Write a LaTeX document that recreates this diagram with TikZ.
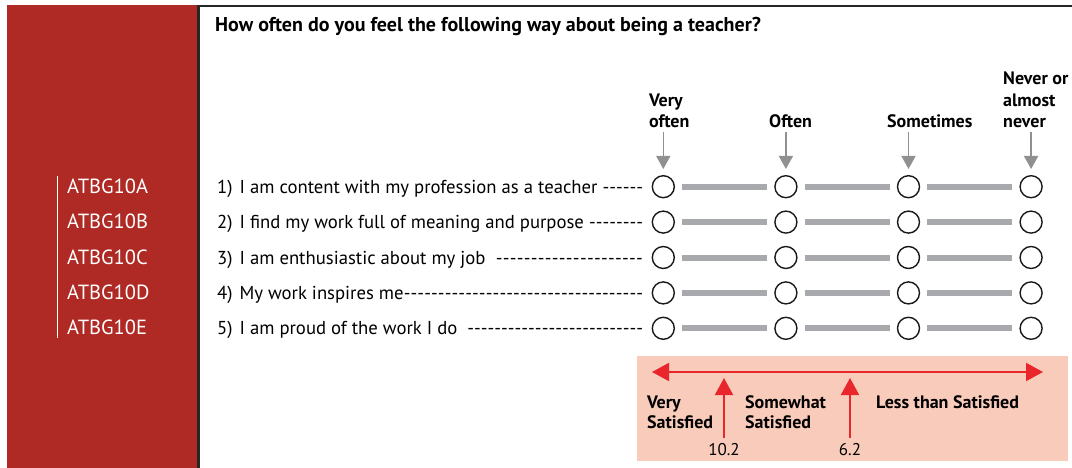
\documentclass[tikz,border=0pt]{standalone}
\usepackage{fontspec}
\setmainfont{PT Sans}
\usetikzlibrary{arrows.meta,positioning}
\definecolor{panelred}{HTML}{AF2A24}
\definecolor{scalepink}{HTML}{F9CBBA}
\definecolor{bargray}{HTML}{A7A9AC}
\definecolor{satred}{HTML}{E8262C}

\begin{document}
\begin{tikzpicture}[x=1pt, y=-1pt,
	every node/.style={inner sep=0pt},
	code/.style={anchor=base west, text=white, font=\fontsize{20.5}{22}\selectfont},
	item/.style={anchor=base west, font=\fontsize{18.7}{22}\selectfont},
	hdr/.style={anchor=base west, align=left, font=\bfseries\fontsize{18}{21.3}\selectfont},
	resp/.style={circle, draw=black!90, line width=1.4pt, minimum size=22pt},
	bar/.style={draw=bargray, line width=6pt, shorten <=7pt, shorten >=7pt},
	hdrarrow/.style={draw=bargray!85!black, line width=1.5pt, -{Triangle[width=14pt,length=13pt]}, shorten <=4pt, shorten >=6pt},
	satarrow/.style={draw=satred, line width=2pt},
	sattip/.tip={Triangle[width=18pt,length=17pt]},
	satlabel/.style={anchor=base west, align=left, font=\bfseries\fontsize{18}{20}\selectfont}]

	\useasboundingbox (0,0) rectangle (1072,468);
	\fill[panelred] (7,5) rectangle (197,468);
	\draw[line width=2.5pt, black!85] (198.5,468) -- (198.5,6) -- (1072,6);
	\fill[scalepink] (637,356) rectangle (1068,461);

	\node[anchor=base west, font=\bfseries\fontsize{20}{22}\selectfont] (title) at (215,32) {How often do you feel the following way about being a teacher?};

	\draw[white, line width=1pt] (57,176) -- (57,338);
	\foreach \c [count=\i, evaluate=\i as \y using 186.7+35.4*(\i-1)] in {A,B,C,D,E}
		\node[code] (code\i) at (67,\y+6.5) {ATBG10\c};

	\foreach \t [count=\i, evaluate=\i as \y using 186.7+35.4*(\i-1)] in {
		{I am content with my profession as a teacher\ },
		{I find my work full of meaning and purpose\ },
		{I am enthusiastic about my job\ \ },
		{My work inspires me},
		{I am proud of the work I do\ \ }} {
		\node[item] (item\i) at (217,\y+6.5) {\hbox to 426pt{\i)\hspace{7pt}\t\xleaders\hbox{-}\hfill}};
		\foreach \j [evaluate=\j as \x using 663.3+122.6*(\j-1)] in {1,...,4}
			\node[resp] (c\i-\j) at (\x,\y) {};
		\foreach \j [evaluate=\j as \k using int(\j+1)] in {1,2,3}
			\draw[bar] (c\i-\j.east) -- (c\i-\k.west);
	}

	\node[hdr] (h1) at (649,127.5) {Very\\often};
	\node[hdr] (h2) at (769,127.5) {Often};
	\node[hdr] (h3) at (887,127.5) {Sometimes};
	\node[hdr] (h4) at (1003,127.5) {Never or\\almost\\never};
	\foreach \j in {1,...,4}
		\draw[hdrarrow] (h\j.south -| c1-\j) -- (c1-\j.north);

	\coordinate (satL) at (652,372);
	\coordinate (satR) at (1043,372);
	\draw[satarrow, sattip-sattip] (satL) -- (satR);
	\node[anchor=base, font=\fontsize{17}{20}\selectfont] (cut1) at (724,455) {10.2};
	\node[anchor=base, font=\fontsize{17}{20}\selectfont] (cut2) at (850,455) {6.2};
	\draw[satarrow, -sattip, shorten <=5pt, shorten >=6pt] (cut1.north) -- (cut1.north |- satL);
	\draw[satarrow, -sattip, shorten <=5pt, shorten >=6pt] (cut2.north) -- (cut2.north |- satL);
	\node[satlabel] (vsat) at (647,428) {Very\\Satisfied};
	\node[satlabel] (ssat) at (745,428) {Somewhat\\Satisfied};
	\node[satlabel] (lsat) at (876,408) {Less than Satisfied};
\end{tikzpicture}
\end{document}
